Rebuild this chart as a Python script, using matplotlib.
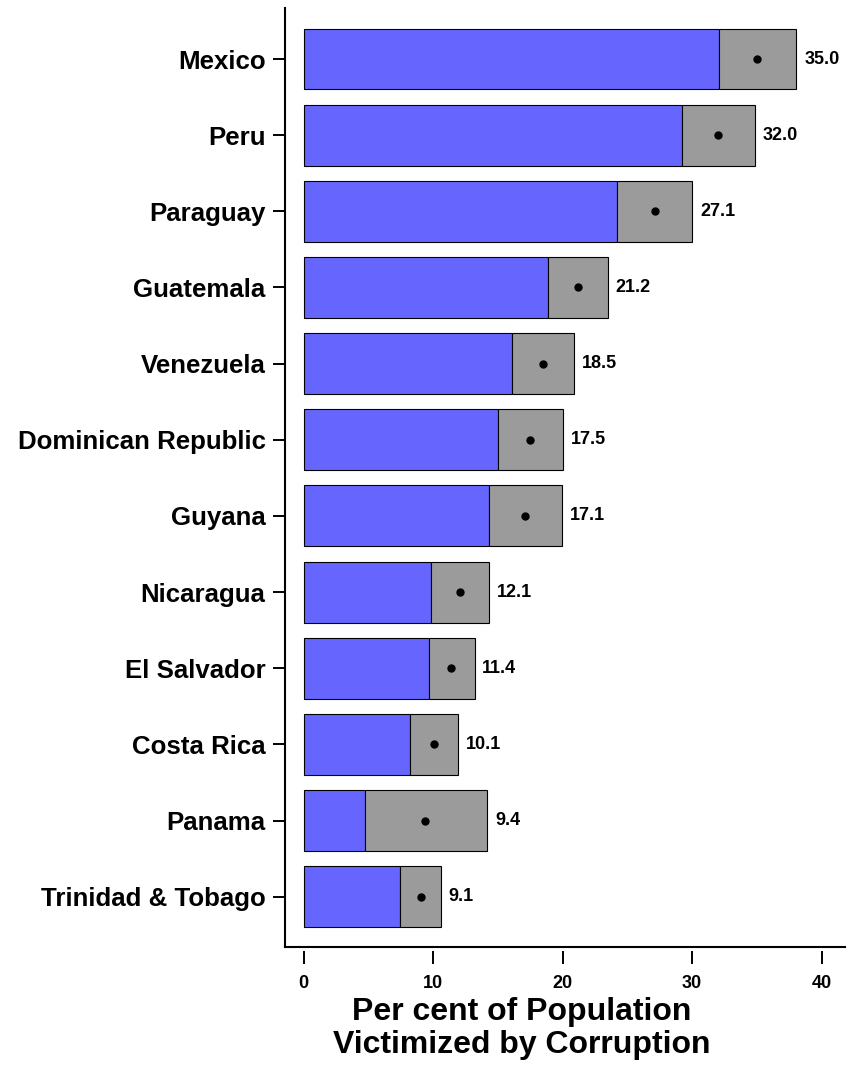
import numpy as np
import matplotlib.pyplot as plt

# Données : pourcentage de la population victime de corruption (IC 95 %)
countries = ['Mexico', 'Peru', 'Paraguay', 'Guatemala', 'Venezuela',
             'Dominican Republic', 'Guyana', 'Nicaragua', 'El Salvador',
             'Costa Rica', 'Panama', 'Trinidad & Tobago']
estimate = [35.0, 32.0, 27.1, 21.2, 18.5, 17.5, 17.1, 12.1, 11.4, 10.1, 9.4, 9.1]
lower = [32.05, 29.2, 24.2, 18.9, 16.1, 15.05, 14.3, 9.85, 9.7, 8.2, 4.75, 7.45]
upper = [38.05, 34.85, 30.0, 23.5, 20.85, 20.05, 19.95, 14.35, 13.2, 11.95, 14.2, 10.6]
xticks = [0, 10, 20, 30, 40]

plt.rcParams['font.family'] = ['Liberation Sans', 'DejaVu Sans']
plt.rcParams['font.weight'] = 'bold'

fig = plt.figure(figsize=(8.5, 10.73), dpi=100)
ax = fig.add_axes([285 / 850, 1 - 947 / 1073, 560 / 850, (947 - 8) / 1073])

n = len(countries)
y = np.arange(n)[::-1]
h = 0.8

# axe x détaché (style R) -- à faire avant de régler les ticks
ax.spines['bottom'].set_position(('outward', 3))
ax.spines['bottom'].set_color('none')
ax.spines['top'].set_visible(False)
ax.spines['right'].set_visible(False)
ax.spines['left'].set_linewidth(1.5)

ax.barh(y, lower, height=h, color='#6666ff', edgecolor='black', linewidth=0.8)
ax.barh(y, np.array(upper) - np.array(lower), left=lower, height=h,
        color='#9b9b9b', edgecolor='black', linewidth=0.8)
ax.plot(estimate, y, 'o', color='black', markersize=5)

for yi, up, est in zip(y, upper, estimate):
    ax.text(up + 0.6, yi, f'{est:.1f}', va='center', ha='left',
            fontsize=13, fontweight='bold')

ax.set_xlim(-1.43, 41.8)
ax.set_ylim(-0.66, n - 1 + 0.67)
ax.set_yticks(y)
ax.set_yticklabels(countries, fontsize=18.6, fontweight='bold')
ax.set_xticks(xticks)
ax.set_xticklabels([str(t) for t in xticks], fontsize=13, fontweight='bold')

ax.plot([0, 1], [0, 0], transform=ax.transAxes, color='black', lw=1.5, clip_on=False)
ax.tick_params(axis='x', length=9, width=1.4, pad=8)
ax.tick_params(axis='y', length=9, width=1.4, pad=5)

fig.text(522 / 850, 1 - 1012 / 1073, 'Per cent of Population', ha='center', va='center',
         fontsize=23, fontweight='bold')
fig.text(522 / 850, 1 - 1045 / 1073, 'Victimized by Corruption', ha='center', va='center',
         fontsize=23, fontweight='bold')

fig.savefig('out.png', dpi=100)
